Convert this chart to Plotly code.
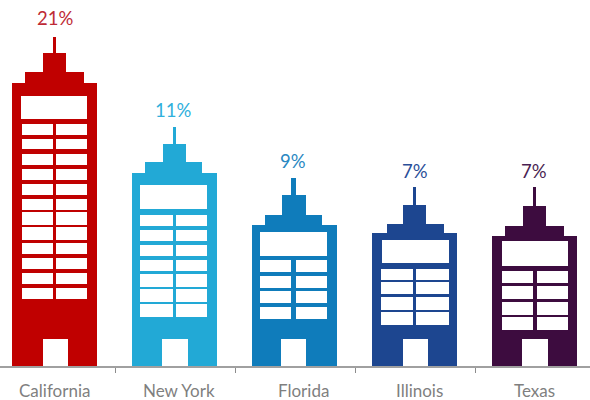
import plotly.graph_objects as go

# ---- data ----
states = ["California", "New York", "Florida", "Illinois", "Texas"]
shares = [21, 11, 9, 7, 7]
share_labels = ["21%", "11%", "9%", "7%", "7%"]
colors = ["#C00000", "#22A9D6", "#0F7CBB", "#1D4690", "#3D0C3F"]
label_colors = ["#BE2A35", "#2FB0DC", "#2A88C2", "#2A4F98", "#4A1F52"]

# ---- building drawing, in axis units (1 unit = 1 screen pixel high), measured from the ground ----
SLOT = 120.0
PLOT_HEIGHT = 366
centers = [55, 175, 295, 415, 535]
antenna_tops = [329, 239, 188, 179, 179]
label_levels = [348, 256, 205, 195, 195]
label_shifts = [0, -2, -2, -0.5, -1.5]
state_level = -24
state_shifts = [-1, 4, 8.5, 4.5, -1]
upper_tops = [313, 222, 171, 161, 160]
lower_tops = [294, 204, 151, 142, 140]
body_tops = [283, 193, 141, 133, 130]
body_bottoms = [0, 0, -2, 0, -2]

body_spans = [(12, 97), (132, 217), (252, 337), (372, 457), (492, 577)]
lower_spans = [(25, 84), (145, 202), (265, 322), (387, 444), (505, 564)]
upper_spans = [(43, 66), (163, 186), (282, 306), (403, 426), (523, 546)]
antenna_spans = [(52.5, 56), (172.7, 176.3), (291, 296), (412.7, 416), (533, 536.3)]
door_spans = [(43, 68), (162, 188), (281, 306), (403, 428), (522, 548)]
door_tops = [27, 27, 27, 27, 27]
door_bottoms = [-0.5, 0, -1, 0, -0.5]

big_spans = [(21, 87), (140, 207), (260, 327), (382, 449), (502, 568)]
big_rows = [(247.5, 270), (157, 181), (110.5, 134), (103, 126), (100, 125)]
left_spans = [(22, 53), (140, 173), (260, 291), (381, 413), (502, 533)]
right_spans = [(56, 87), (176, 207), (296, 327), (416, 449), (537, 568)]
pane_rows = [
    [(231.5, 242), (217, 227), (201, 212), (186, 197), (171, 182), (156, 167),
     (141, 154), (126, 139), (112, 123), (97, 108), (82, 93), (67, 78)],
    [(140, 151), (125, 136), (110, 121), (95, 106), (79, 92), (64, 77), (49, 62)],
    [(94, 106), (78, 90), (63, 75), (47, 59)],
    [(86, 97), (72, 84), (56, 69), (41, 54)],
    [(83, 95), (67, 80), (51, 64), (36, 49)],
]


def rects(i, items):
    """items: (span in pixels across, (bottom, top) in axis units)."""
    xs, widths, offsets, bases, heights = [], [], [], [], []
    for (x0, x1), (y0, y1) in items:
        xs.append(states[i])
        widths.append((x1 - x0) / SLOT)
        offsets.append((x0 - centers[i]) / SLOT)
        bases.append(y0)
        heights.append(y1 - y0)
    return dict(x=xs, y=heights, base=bases, width=widths, offset=offsets)


fig = go.Figure()
for i in range(len(states)):
    solid = [
        (body_spans[i], (body_bottoms[i], body_tops[i])),
        (lower_spans[i], (body_tops[i], lower_tops[i])),
        (upper_spans[i], (lower_tops[i], upper_tops[i])),
        (antenna_spans[i], (upper_tops[i], antenna_tops[i])),
    ]
    fig.add_bar(**rects(i, solid), marker=dict(color=colors[i], line_width=0),
                showlegend=False, hoverinfo="skip", cliponaxis=False, name=states[i])
    holes = [(door_spans[i], (door_bottoms[i], door_tops[i])),
             (big_spans[i], big_rows[i])]
    for row in pane_rows[i]:
        holes.append((left_spans[i], row))
        holes.append((right_spans[i], row))
    fig.add_bar(**rects(i, holes), marker=dict(color="#FFFFFF", line_width=0),
                showlegend=False, hoverinfo="skip", cliponaxis=False)

    fig.add_annotation(x=states[i], y=label_levels[i], text=share_labels[i],
                       showarrow=False, xanchor="center", yanchor="middle",
                       xshift=label_shifts[i],
                       font=dict(family="Lato", size=18.5, color=label_colors[i]))
    fig.add_annotation(x=states[i], yref="paper", y=state_level / PLOT_HEIGHT, text=states[i],
                       showarrow=False, xanchor="center", yanchor="middle",
                       xshift=state_shifts[i],
                       font=dict(family="Lato", size=17, color="#7F7F7F"))

fig.update_layout(
    width=590, height=400, barmode="overlay", bargap=0,
    margin=dict(l=0, r=0, t=0, b=34),
    paper_bgcolor="white", plot_bgcolor="white",
    xaxis=dict(type="category", categoryorder="array", categoryarray=states,
               range=[-55 / SLOT, (590 - 55) / SLOT], tickson="boundaries",
               ticks="outside", ticklen=5, tickwidth=1, tickcolor="#8C8C8C",
               showline=True, linecolor="#A0A0A0", linewidth=1.5,
               showgrid=False, zeroline=False, showticklabels=False),
    yaxis=dict(range=[0, PLOT_HEIGHT], visible=False, showgrid=False, zeroline=False),
)

fig.write_html("out.html", config={"displayModeBar": False},
               post_script="document.body.style.margin='0';")
